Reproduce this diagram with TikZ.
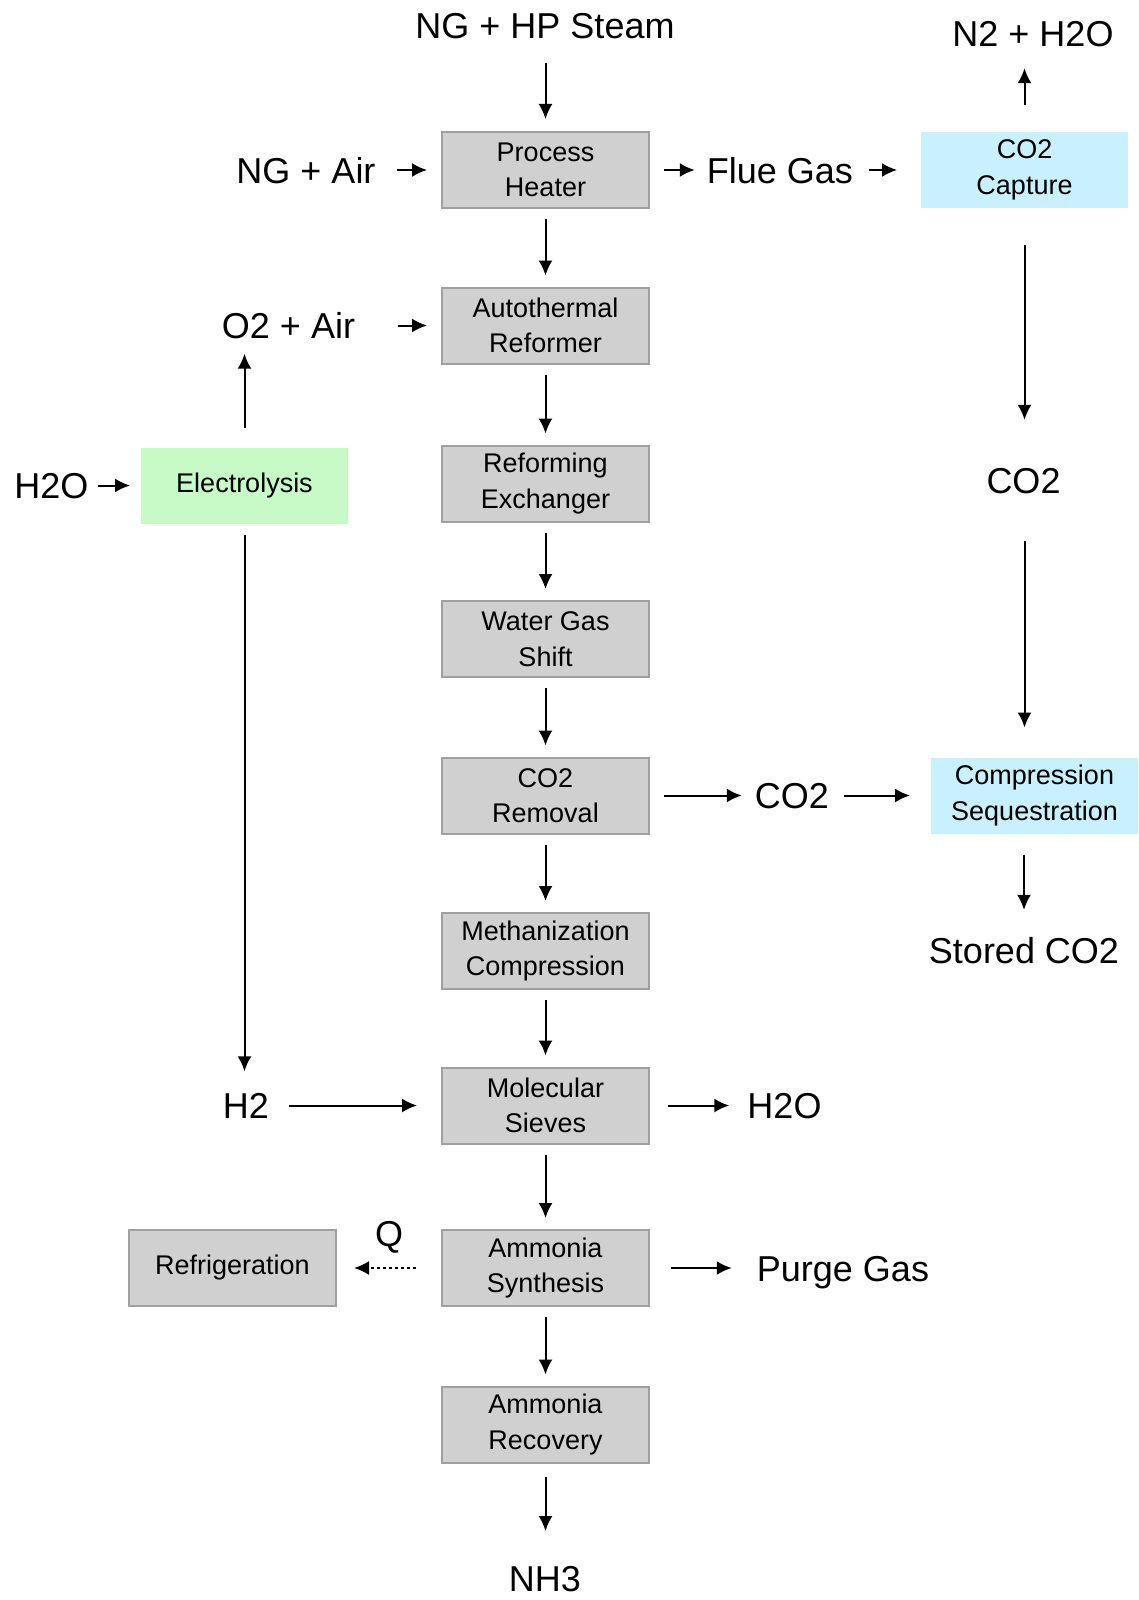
\documentclass[tikz,border=0pt]{standalone}
\usepackage{fontspec}
\setmainfont{Liberation Sans}
\usetikzlibrary{arrows.meta}
\definecolor{boxgray}{RGB}{208,208,208}
\definecolor{boxedge}{RGB}{160,160,160}
\definecolor{capblue}{RGB}{200,240,255}
\definecolor{elgreen}{RGB}{200,250,200}
\begin{document}
\begin{tikzpicture}[x=1pt,y=-1pt,
  unit/.style={draw=boxedge,line width=2pt,fill=boxgray,minimum width=207pt,minimum height=76pt,
    align=center,inner sep=0pt,font=\fontsize{27}{35.5}\selectfont},
  bluebox/.style={unit,draw=none,fill=capblue},
  greenbox/.style={unit,draw=none,fill=elgreen},
  lbl/.style={inner sep=0pt,text height=26pt,text depth=0pt,font=\fontsize{36}{40}\selectfont},
  arr/.style={line width=2pt,-{Latex[length=15pt,width=14pt]}},
  dotarr/.style={arr,dash pattern=on 3pt off 3pt}]
\useasboundingbox (0,0) rectangle (1138,1600);

% central column
\node[unit] (ph)   at (545.5,170)    {Process\\Heater};
\node[unit] (atr)  at (545.5,325.5)  {Autothermal\\Reformer};
\node[unit] (rex)  at (545.5,483.5)  {Reforming\\Exchanger};
\node[unit] (wgs)  at (545.5,639)    {Water Gas\\Shift};
\node[unit] (co2r) at (545.5,795.5)  {CO2\\Removal};
\node[unit] (meth) at (545.5,951)    {Methanization\\Compression};
\node[unit] (ms)   at (545.5,1105.5) {Molecular\\Sieves};
\node[unit] (as)   at (545.5,1268)   {Ammonia\\Synthesis};
\node[unit] (ar)   at (545.5,1424.5) {Ammonia\\Recovery};

% side boxes
\node[bluebox]  (cap)  at (1024.5,170)  {CO2\\Capture};
\node[bluebox]  (seq)  at (1034.5,795.5){Compression\\Sequestration};
\node[greenbox] (elec) at (244.5,485.5) {Electrolysis};
\node[unit]     (refr) at (232.5,1268)  {Refrigeration};

% labels
\node[lbl] (top)   at (545,26)     {NG + HP Steam};
\node[lbl] (ngair) at (306,170)    {NG + Air};
\node[lbl] (flue)  at (780,170)    {Flue Gas};
\node[lbl] (n2h2o) at (1033,34)    {N2 + H2O};
\node[lbl] (co2a)  at (1023.5,480) {CO2};
\node[lbl] (stored) at (1024,950)  {Stored CO2};
\node[lbl] (co2b)  at (792,795.5)  {CO2};
\node[lbl] (o2air) at (288.5,325.5){O2 + Air};
\node[lbl] (h2oa)  at (51.5,485.5) {H2O};
\node[lbl] (h2)    at (246,1105.5) {H2};
\node[lbl] (h2ob)  at (784.5,1105.5){H2O};
\node[lbl] (purge) at (843,1268)   {Purge Gas};
\node[lbl] (q)     at (389,1233)   {Q};
\node[lbl] (nh3)   at (545,1578)   {NH3};

% central flow
\draw[arr,shorten <=37pt,shorten >=12pt] (top -| ph) -- (ph);
\foreach \a/\b in {ph/atr,atr/rex,rex/wgs,wgs/co2r,co2r/meth,meth/ms,ms/as,as/ar}
  \draw[arr,shorten <=10pt,shorten >=11pt] (\a) -- (\b);
\draw[arr,shorten <=13pt,shorten >=47pt] (ar) -- (ar |- nh3);

% heater side
\draw[arr,shorten <=21pt,shorten >=14pt] (ngair) -- (ph);
\draw[arr,shorten <=14pt,shorten >=12pt] (ph) -- (flue);
\draw[arr,shorten <=16pt,shorten >=23pt] (flue) -- (cap);
\draw[arr,shorten <=26pt,shorten >=21pt] (cap) -- (cap |- n2h2o.south);
\draw[arr,shorten <=36pt,shorten >=47pt] (cap) -- (cap |- co2a.north);
\draw[arr,shorten <=48pt,shorten >=29pt] (co2a.south -| cap) -- (cap |- seq.north);
\draw[arr,shorten <=20pt,shorten >=27pt] (seq.south -| stored) -- (stored);

% CO2 removal
\draw[arr,shorten <=14pt,shorten >=13pt] (co2r) -- (co2b);
\draw[arr,shorten <=15pt,shorten >=20pt] (co2b) -- (seq);

% electrolysis
\draw[arr,shorten <=43pt,shorten >=14pt] (o2air) -- (atr);
\draw[arr,shorten <=19pt,shorten >=15pt] (elec) -- (elec |- o2air.south);
\draw[arr,shorten <=9pt,shorten >=10pt] (h2oa) -- (elec);
\draw[arr,shorten <=10pt,shorten >=21pt] (elec) -- (elec |- h2.north);
\draw[arr,shorten <=20pt,shorten >=24pt] (h2) -- (ms);

% lower outputs
\draw[arr,shorten <=18pt,shorten >=18pt] (ms) -- (h2ob);
\draw[arr,shorten <=21pt,shorten >=25pt] (as) -- (purge);
\draw[dotarr,shorten <=25pt,shorten >=17pt] (as) -- (refr);
\end{tikzpicture}
\end{document}
